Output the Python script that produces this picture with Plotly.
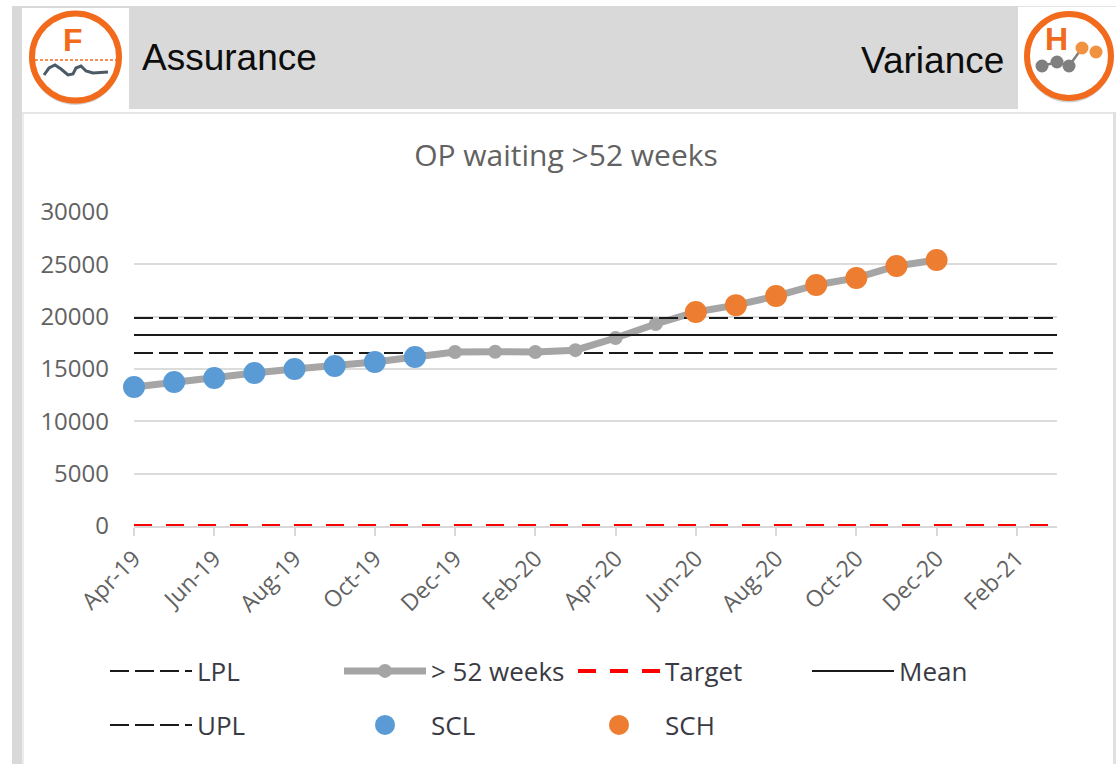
import plotly.graph_objects as go

W, H = 1116, 764

months = ["Apr-19","May-19","Jun-19","Jul-19","Aug-19","Sep-19","Oct-19","Nov-19","Dec-19","Jan-20","Feb-20","Mar-20",
          "Apr-20","May-20","Jun-20","Jul-20","Aug-20","Sep-20","Oct-20","Nov-20","Dec-20","Jan-21","Feb-21","Mar-21"]
tick_labels = ["Apr-19","Jun-19","Aug-19","Oct-19","Dec-19","Feb-20","Apr-20","Jun-20","Aug-20","Oct-20","Dec-20","Feb-21"]
y_ticks = [0, 5000, 10000, 15000, 20000, 25000, 30000]

weeks52 = [13280,13760,14140,14620,15000,15290,15670,16150,16620,16650,16620,16800,17960,19300,20450,21100,21970,23030,23700,24840,25410]
scl = [13280,13760,14140,14620,15000,15290,15670,16150]
sch = [20450,21100,21970,23030,23700,24840,25410]
lpl = [16530,16530,16530,16530,16530,16530,16530,16530,16530,16530,16530,16530,16530,16530,16530,16530,16530,16530,16530,16530,16530,16530,16530,16530]
upl = [19870,19870,19870,19870,19870,19870,19870,19870,19870,19870,19870,19870,19870,19870,19870,19870,19870,19870,19870,19870,19870,19870,19870,19870]
mean = [18250,18250,18250,18250,18250,18250,18250,18250,18250,18250,18250,18250,18250,18250,18250,18250,18250,18250,18250,18250,18250,18250,18250,18250]
target = [0,0,0,0,0,0,0,0,0,0,0,0,0,0,0,0,0,0,0,0,0,0,0,0]

FONT = "Open Sans"
GRAY_TXT = "#626262"
LEG_TXT = "#3a3a44"
ORANGE = "#f26b1d"
BLUE = "#5b9bd5"
MARK_OR = "#ed7d31"
DASH = "19px,6px"

fig = go.Figure()
fig.add_trace(go.Scatter(x=months, y=lpl, name="LPL", mode="lines", legend="legend",
                         line=dict(color="#1a1a1a", width=2, dash=DASH)))
fig.add_trace(go.Scatter(x=months[:21], y=weeks52, name="> 52 weeks", mode="lines+markers", legend="legend",
                         line=dict(color="#a5a5a5", width=7), marker=dict(color="#a5a5a5", size=14)))
fig.add_trace(go.Scatter(x=months, y=target, name="Target", mode="lines", legend="legend",
                         line=dict(color="#ff0000", width=4, dash="18px,14px")))
fig.add_trace(go.Scatter(x=months, y=mean, name="Mean", mode="lines", legend="legend",
                         line=dict(color="#1a1a1a", width=2)))
fig.add_trace(go.Scatter(x=months, y=upl, name="UPL", mode="lines", legend="legend2",
                         line=dict(color="#1a1a1a", width=2, dash=DASH)))
fig.add_trace(go.Scatter(x=months[:8], y=scl, name="SCL", mode="markers", legend="legend2",
                         marker=dict(color=BLUE, size=18, line=dict(color=BLUE, width=4))))
fig.add_trace(go.Scatter(x=months[14:21], y=sch, name="SCH", mode="markers", legend="legend2",
                         marker=dict(color=MARK_OR, size=18, line=dict(color=MARK_OR, width=4))))
for t in fig.data:
    t.cliponaxis = False
    t.hoverinfo = "skip"


def px(x):
    return x / W


def py(y):
    return 1 - y / H


def rect(x0, y0, x1, y1, color, layer="below"):
    return dict(type="rect", xref="paper", yref="paper", x0=px(x0), x1=px(x1), y0=py(y0), y1=py(y1),
                fillcolor=color, line=dict(width=0), layer=layer)


def circle(cx, cy, r, fill, line_color=None, lw=0, opacity=1):
    return dict(type="circle", xref="paper", yref="paper", x0=px(cx - r), x1=px(cx + r), y0=py(cy - r), y1=py(cy + r),
                fillcolor=fill, line=dict(color=line_color or fill, width=lw), opacity=opacity, layer="above")


def poly(points, color, width, dash="solid"):
    d = "M " + " L ".join(f"{px(a):.5f},{py(b):.5f}" for a, b in points)
    return dict(type="path", xref="paper", yref="paper", path=d, line=dict(color=color, width=width, dash=dash), layer="above")


shapes = [
    rect(12, 6, 22, 764, "#d9d9d9"),
    rect(12, 6, 1018, 109, "#d9d9d9"),
    rect(1018, 6, 1116, 7, "#e4e4e4"),
    rect(22, 8, 129, 111, "#ffffff"),
    rect(22, 112, 1114, 114, "#e6e6e6"),
    rect(1113, 112, 1116, 764, "#e0e0e0"),
    rect(22, 114, 24, 764, "#ececec"),
    # F icon
    circle(75.5, 60, 45, "#b0b5ba", opacity=0.6),
    circle(75.5, 57, 43.5, "#ffffff", ORANGE, 6),
    poly([(35, 60), (116, 60)], ORANGE, 1.5, "3px,2px"),
    poly([(44, 75), (49, 68), (55, 65), (61, 69), (68, 75), (73, 74), (76, 68), (81, 66), (86, 71), (93, 73), (108, 72)], "#4a5a66", 3),
    # H icon
    circle(1069, 59, 43.5, "#b0b5ba", opacity=0.6),
    circle(1069, 56, 42, "#ffffff", ORANGE, 6),
    poly([(1042, 66), (1057, 62), (1069, 66), (1082, 48)], "#7f7f7f", 2.5),
    circle(1042, 66, 6.5, "#7f7f7f"),
    circle(1057, 62, 6.5, "#7f7f7f"),
    circle(1069, 66, 6.5, "#7f7f7f"),
    circle(1082, 48, 6.5, "#f0923f"),
    circle(1096, 52, 6.5, "#f0923f"),
]


def label(text, x, y, size, color, anchor="left", family="Liberation Sans"):
    return dict(text=text, xref="paper", yref="paper", x=px(x), y=py(y), xanchor=anchor, yanchor="middle",
                showarrow=False, font=dict(family=family, size=size, color=color))


annotations = [
    label("Assurance", 140, 57, 37, "#0d0d0d"),
    label("Variance", 1006, 60, 37, "#0d0d0d", "right"),
    label("<b>F</b>", 73, 40, 32, ORANGE, "center"),
    label("<b>H</b>", 1056, 39, 32, ORANGE, "center"),
]

leg_common = dict(orientation="h", xanchor="left", yanchor="middle", bgcolor="rgba(0,0,0,0)",
                  itemwidth=82, entrywidth=137, entrywidthmode="pixels",
                  font=dict(family=FONT, size=26, color=LEG_TXT), traceorder="normal",
                  itemclick=False, itemdoubleclick=False)

fig.update_layout(
    width=W, height=H, autosize=False,
    margin=dict(l=0, r=0, t=0, b=0, autoexpand=False),
    paper_bgcolor="#ffffff", plot_bgcolor="#ffffff",
    showlegend=True,
    title=dict(text="OP waiting >52 weeks", x=566 / W, xanchor="center", y=py(155), yanchor="middle",
               font=dict(family=FONT, size=30, color=GRAY_TXT)),
    xaxis=dict(domain=[px(134), px(1057)], type="category", categoryorder="array", categoryarray=months,
               range=[0, 23], tickmode="array", tickvals=tick_labels, ticktext=tick_labels, tickangle=-45,
               showgrid=False, showline=True, linecolor="#d9d9d9", linewidth=2, layer="below traces",
               ticks="outside", ticklen=8, tickwidth=2, tickcolor="#d9d9d9", zeroline=False, automargin=False,
               tickfont=dict(family=FONT, size=23, color=GRAY_TXT)),
    yaxis=dict(domain=[py(526), py(212)], range=[0, 30000], tickmode="array", tickvals=y_ticks, tickformat="d",
               showgrid=True, gridcolor="#dcdcdc", gridwidth=2, zeroline=False, showline=False, automargin=False,
               ticks="", ticklabelstandoff=24, layer="below traces",
               tickfont=dict(family=FONT, size=24, color=GRAY_TXT)),
    legend=dict(x=px(105), y=py(671), **leg_common),
    legend2=dict(x=px(105), y=py(725), **leg_common),
    shapes=shapes,
    annotations=annotations,
)

fig.write_html("out.html", config={"displayModeBar": False},
               post_script="document.body.style.margin='0';document.documentElement.style.overflow='hidden';")
